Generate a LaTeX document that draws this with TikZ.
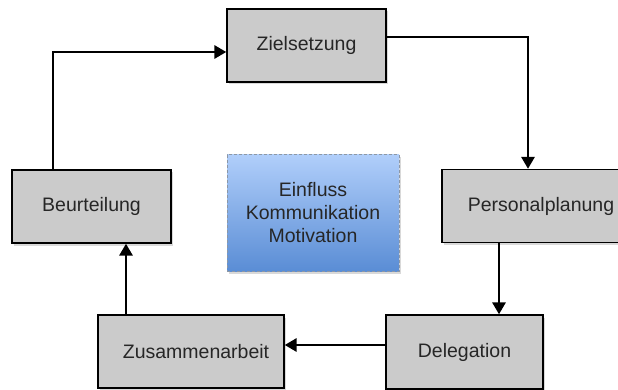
\documentclass[tikz,border=0pt]{standalone}
\usepackage{fontspec}
\setmainfont{Liberation Sans}
\usetikzlibrary{arrows.meta,shadows}
\definecolor{boxgray}{HTML}{CBCBCB}
\definecolor{bluetop}{HTML}{B0CEFA}
\definecolor{bluebot}{HTML}{5A8DD5}
\definecolor{dashgray}{HTML}{8C97A6}

\begin{document}
\begin{tikzpicture}[x=1pt, y=-1pt,
    box/.style={draw, line width=1.3pt, fill=boxgray, inner sep=0pt,
      minimum height=73pt, text=black!85, font=\fontsize{19.5}{23}\selectfont,
      drop shadow={shadow xshift=1.5pt, shadow yshift=-2.5pt, opacity=0.3}},
    infobox/.style={draw=dashgray, line width=1pt, dash pattern=on 3pt off 2pt,
      top color=bluetop, bottom color=bluebot, inner sep=0pt, align=center,
      text=black!85, font=\fontsize{19.5}{23}\selectfont,
      drop shadow={shadow xshift=1.5pt, shadow yshift=-2.5pt, opacity=0.3}},
    conn/.style={line width=2.9pt, -{Triangle[length=12pt, width=13pt]}}]
  \useasboundingbox (0,0) rectangle (618,390);

  % Cycle
  \node[box, minimum width=159pt] (ziel) at (306.5,45.5) {Zielsetzung};
  \node[box, minimum width=198pt] (plan) at (541,206) {Personalplanung};
  \node[box, minimum width=157pt, minimum height=74pt] (deleg) at (464.5,352) {Delegation};
  \node[box, minimum width=186pt] (zus) at (191,351.5) {\hspace{10pt}Zusammenarbeit};
  \node[box, minimum width=159pt] (beur) at (91.5,206.5) {Beurteilung};

  % Middle
  \node[infobox, minimum width=172pt, minimum height=116pt] (einfluss) at (313,213)
    {Einfluss\\Kommunikation\\Motivation};

  % Arrows
  \draw[conn] ([yshift=8.5pt]ziel.east) -| ([xshift=-13pt]plan.north);
  \draw[conn] ([xshift=-42pt]plan.south) -- ([xshift=-42pt]plan.south |- deleg.north);
  \draw[conn] ([yshift=7pt]deleg.west) -- ([yshift=7pt]deleg.west -| zus.east);
  \draw[conn] ([xshift=-65pt]zus.north) -- ([xshift=-65pt]zus.north |- beur.south);
  \draw[conn] ([xshift=-38.5pt]beur.north) |- ([yshift=-6.5pt]ziel.west);
\end{tikzpicture}
\end{document}
